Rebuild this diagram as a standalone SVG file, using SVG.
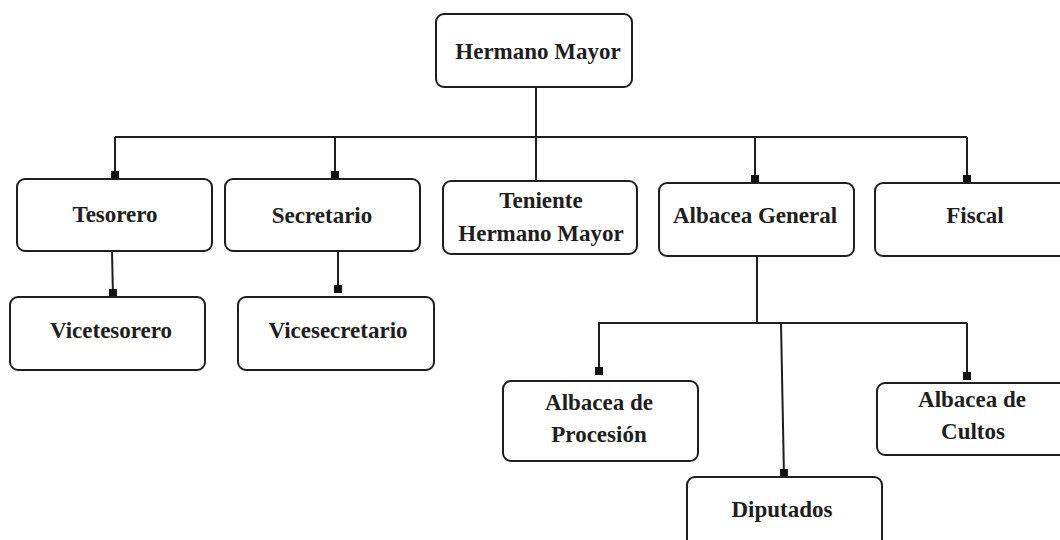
<svg xmlns="http://www.w3.org/2000/svg" width="1060" height="540" viewBox="0 0 1060 540">
<style>
.box{fill:#fff;stroke:#1e1e1e;stroke-width:2}
.lbl{font-family:"Liberation Serif","Times New Roman",serif;font-size:23px;font-weight:bold;fill:#1e1e1e;text-anchor:middle}
.ln{fill:none;stroke:#1e1e1e;stroke-width:2}
.end{marker-end:url(#sq)}
</style>
<defs>
<marker id="sq" markerUnits="userSpaceOnUse" markerWidth="8" markerHeight="8" viewBox="0 0 8 8" refX="8" refY="4" orient="auto">
<rect x="0" y="0" width="8" height="8" fill="#111"/>
</marker>
</defs>
<rect width="1060" height="540" fill="#fff"/>
<g id="connectors">
<line class="ln" x1="536" y1="87" x2="536" y2="188"/>
<line class="ln" x1="115" y1="137" x2="967" y2="137"/>
<line class="ln end" x1="115" y1="137" x2="115" y2="179"/>
<line class="ln end" x1="335" y1="137" x2="335" y2="179"/>
<line class="ln end" x1="755" y1="137" x2="755" y2="183"/>
<line class="ln end" x1="967" y1="137" x2="967" y2="183"/>
<line class="ln end" x1="112" y1="251" x2="113" y2="297"/>
<line class="ln end" x1="338" y1="251" x2="338" y2="293"/>
<line class="ln" x1="757" y1="256" x2="757" y2="323"/>
<line class="ln" x1="598" y1="323" x2="967" y2="323"/>
<line class="ln end" x1="599" y1="323" x2="599" y2="375"/>
<line class="ln end" x1="781" y1="323" x2="784" y2="477"/>
<line class="ln end" x1="967" y1="323" x2="967" y2="380"/>
</g>
<g id="hermano-mayor">
<rect class="box" x="436" y="14" width="196" height="73" rx="8"/>
<text class="lbl" x="538" y="59">Hermano Mayor</text>
</g>
<g id="tesorero">
<rect class="box" x="17" y="179" width="195" height="72" rx="8"/>
<text class="lbl" x="115" y="222">Tesorero</text>
</g>
<g id="secretario">
<rect class="box" x="225" y="179" width="195" height="72" rx="8"/>
<text class="lbl" x="322" y="223">Secretario</text>
</g>
<g id="teniente">
<rect class="box" x="443" y="181" width="194" height="73" rx="8"/>
<text class="lbl" x="541" y="208">Teniente</text>
<text class="lbl" x="541" y="241">Hermano Mayor</text>
</g>
<g id="albacea-general">
<rect class="box" x="659" y="183" width="195" height="73" rx="8"/>
<text class="lbl" x="755" y="223">Albacea General</text>
</g>
<g id="fiscal">
<rect class="box" x="875" y="183" width="195" height="73" rx="8"/>
<text class="lbl" x="975" y="223">Fiscal</text>
</g>
<g id="vicetesorero">
<rect class="box" x="10" y="297" width="195" height="73" rx="8"/>
<text class="lbl" x="111" y="338">Vicetesorero</text>
</g>
<g id="vicesecretario">
<rect class="box" x="238" y="297" width="196" height="73" rx="8"/>
<text class="lbl" x="338" y="338">Vicesecretario</text>
</g>
<g id="albacea-procesion">
<rect class="box" x="503" y="381" width="195" height="80" rx="8"/>
<text class="lbl" x="599" y="410">Albacea de</text>
<text class="lbl" x="599" y="442">Procesión</text>
</g>
<g id="diputados">
<rect class="box" x="687" y="477" width="195" height="80" rx="8"/>
<text class="lbl" x="782" y="517">Diputados</text>
</g>
<g id="albacea-cultos">
<rect class="box" x="877" y="383" width="195" height="72" rx="8"/>
<text class="lbl" x="972" y="407">Albacea de</text>
<text class="lbl" x="973" y="439">Cultos</text>
</g>
</svg>
